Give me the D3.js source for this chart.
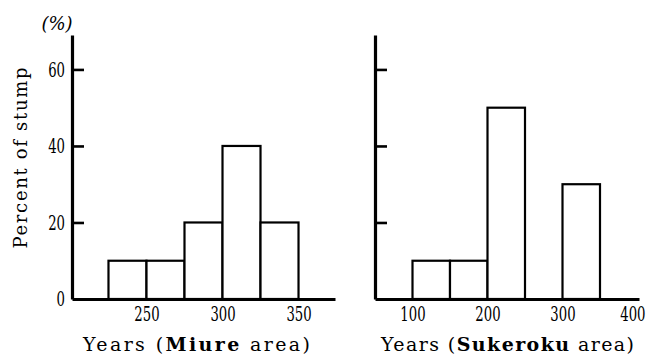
<!DOCTYPE html>
<html>
<head>
<meta charset="utf-8">
<script src="https://cdn.jsdelivr.net/npm/d3@7"></script>
<style>
  html, body { margin: 0; padding: 0; background: #fff; }
  svg { display: block; }
  text { font-family: "DejaVu Serif", serif; fill: #000; }
</style>
</head>
<body>
<div id="chart"></div>
<script>
// Stump age distributions (percent of stumps per age class)
const miureBins   = [[225, 250], [250, 275], [275, 300], [300, 325], [325, 350]];
const miureValues = [10, 10, 20, 40, 20];
const sukerokuBins   = [[100, 150], [150, 200], [200, 250], [300, 350]];
const sukerokuValues = [10, 10, 50, 30];

const yTicks = [0, 20, 40, 60];
const miureXTicks = [250, 300, 350];
const sukerokuXTicks = [100, 200, 300, 400];

const W = 647, H = 359;
const svg = d3.select("#chart").append("svg").attr("width", W).attr("height", H);

const y = d3.scaleLinear().domain([0, 69]).range([299, 35]);

const panels = [
  { bins: miureBins, values: miureValues, xTicks: miureXTicks,
    x: d3.scaleLinear().domain([201, 374]).range([72, 335]),
    labels: true, area: "Miure", titleX: [83, 310] },
  { bins: sukerokuBins, values: sukerokuValues, xTicks: sukerokuXTicks,
    x: d3.scaleLinear().domain([50, 402]).range([375, 639]),
    labels: false, area: "Sukeroku", titleX: [381, 634] }
];

// numerals are set in a narrow face: squeeze them horizontally
const digitScale = 0.63;
const digitFont = 21;

panels.forEach(p => {
  const g = svg.append("g");
  const x0 = p.x.range()[0];

  // bars
  g.selectAll("rect.bar")
    .data(p.values)
    .join("rect")
    .attr("class", "bar")
    .attr("x", (d, i) => p.x(p.bins[i][0]))
    .attr("width", (d, i) => p.x(p.bins[i][1]) - p.x(p.bins[i][0]))
    .attr("y", d => y(d))
    .attr("height", d => y(0) - y(d))
    .attr("fill", "#fff")
    .attr("stroke", "#000")
    .attr("stroke-width", 2.2);

  // x axis (no tick marks)
  const xAxis = d3.axisBottom(p.x).tickValues(p.xTicks).tickSize(0).tickPadding(7)
    .tickFormat(d3.format("d"));
  const gx = g.append("g").attr("transform", `translate(0,${y(0)})`).call(xAxis);
  gx.attr("font-family", null).attr("font-size", null);
  gx.select(".domain").attr("stroke", "#000").attr("stroke-width", 3.2);
  gx.selectAll(".tick text")
    .attr("font-size", digitFont)
    .attr("transform", `scale(${digitScale},1)`)
    .attr("text-anchor", d => p.x(d) > W - 14 ? "end" : "middle")
    .attr("x", d => p.x(d) > W - 14 ? (W - 2 - p.x(d)) / digitScale : 0);

  // y axis with inward ticks
  const yAxis = d3.axisLeft(y).tickValues(yTicks).tickSizeInner(-12).tickSizeOuter(0)
    .tickPadding(8).tickFormat(p.labels ? d3.format("d") : () => "");
  const gy = g.append("g").attr("transform", `translate(${x0},0)`).call(yAxis);
  gy.attr("font-family", null).attr("font-size", null);
  gy.select(".domain").attr("stroke", "#000").attr("stroke-width", 3.2);
  gy.selectAll(".tick line").attr("stroke", "#000").attr("stroke-width", 2.6)
    .attr("display", d => d === 0 ? "none" : null);
  gy.selectAll(".tick text")
    .attr("font-size", digitFont)
    .attr("x", -7 / digitScale)
    .attr("transform", `scale(${digitScale},1)`);

  // x axis title
  const t = g.append("text")
    .attr("x", p.titleX[0])
    .attr("y", 351)
    .attr("font-size", 19)
    .attr("textLength", p.titleX[1] - p.titleX[0])
    .attr("lengthAdjust", "spacing");
  t.append("tspan").text("Years (");
  t.append("tspan").attr("font-weight", "bold").text(p.area);
  t.append("tspan").text(" area)");
});

// y axis title and unit
svg.append("text")
  .attr("transform", "translate(27,158) rotate(-90)")
  .attr("text-anchor", "middle")
  .attr("font-size", 18)
  .attr("textLength", 181)
  .attr("lengthAdjust", "spacing")
  .text("Percent of stump");

svg.append("text")
  .attr("x", 57)
  .attr("y", 30)
  .attr("text-anchor", "middle")
  .attr("font-size", 18)
  .attr("font-style", "italic")
  .text("(%)");
</script>
</body>
</html>
